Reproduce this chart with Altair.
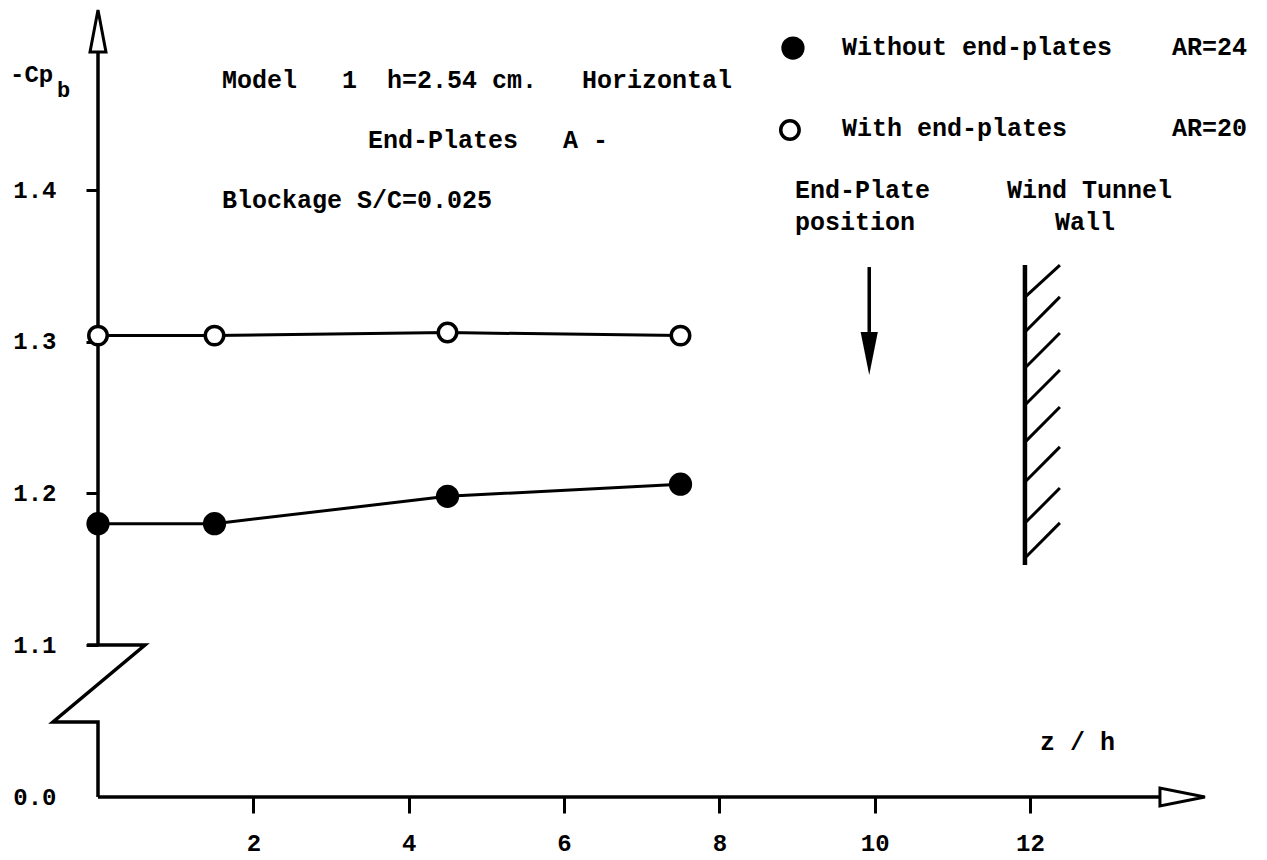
import altair as alt
import pandas as pd

NB = "\u00a0"

# ---- measured data ----
z_pos = [0.0, 1.5, 4.5, 7.5]
cp_with_plates = [1.304, 1.304, 1.306, 1.304]
cp_without_plates = [1.180, 1.180, 1.198, 1.206]

x_ticks = [2, 4, 6, 8, 10, 12]
y_ticks = [0.0, 1.1, 1.2, 1.3, 1.4]

# legend symbols (data coordinates)
leg_filled_z, leg_filled_v = [8.948], [1.4936]
leg_open_z, leg_open_v = [8.909], [1.4396]

# hand-drawn axes with broken y axis
axis_z = [0.0, 0.0, -0.58, 0.605, -0.14, 0.0, 0.0, 0.0, 13.67]
axis_v = [0.0, 0.543, 0.543, 1.1, 1.1, 1.1, 1.491, 0.0, 0.0]
axis_g = ["low"] * 5 + ["up"] * 2 + ["x"] * 2

# end-plate position arrow and tunnel wall
plate_z = [9.93]
plate_v_top, plate_v_bot = [1.3492], [1.3064]
plate_head_v = [1.2922]
wall_z = [11.935]
wall_v_bot, wall_v_top = [1.1527], [1.3505]
hatch_lo = [1.3294, 1.3064, 1.2826, 1.2582, 1.2338, 1.2075, 1.1804, 1.1574]
hatch_hi = [1.3505, 1.3295, 1.3057, 1.2813, 1.2569, 1.2306, 1.2035, 1.1805]
hatch_z0, hatch_z1 = 11.935, 12.385

# text annotations
texts = ["-Cp", "b", "Model   1  h=2.54 cm.   Horizontal", "End-Plates   A -",
         "Blockage S/C=0.025", "Without end-plates", "AR=24", "With end-plates",
         "AR=20", "End-Plate", "position", "Wind Tunnel", "Wall", "z / h"]
texts = [t.replace(" ", NB) for t in texts]
text_z = [-1.133, -0.528, 1.597, 3.476, 1.597, 9.579, 13.828, 9.579, 13.828,
          8.974, 8.974, 11.703, 12.321, 12.128]
text_v = [1.4758, 1.4659, 1.4725, 1.433, 1.3934, 1.4943, 1.4943, 1.4409, 1.4409,
          1.4, 1.3789, 1.4, 1.3789, 0.398]
text_fs = [24, 22, 25, 25, 25, 25, 25, 25, 25, 25, 25, 25, 25, 25]

FONT = "Liberation Mono"

xs = alt.Scale(domain=[0, 12], range=[98, 1030], nice=False, zero=False)
ys = alt.Scale(domain=[0.0, 1.1, 1.4], range=[797, 645, 190], nice=False, zero=False)

x_axis = alt.Axis(values=x_ticks, format="d", orient="bottom", offset=-63,
                  domain=False, grid=False, tickSize=16, tickWidth=3,
                  tickColor="black", labelPadding=30, labelFont=FONT,
                  labelFontSize=24, labelFontWeight="bold", labelColor="black",
                  labelBaseline="middle", labelFlush=False, labelOverlap=False,
                  title="")
y_axis = alt.Axis(values=y_ticks, format=".1f", orient="left", offset=-98,
                  domain=False, grid=False, tickSize=12, tickWidth=3,
                  tickColor="black",
                  tickOpacity={"condition": {"test": "datum.value == 0", "value": 0}, "value": 1},
                  labelPadding=30, labelFont=FONT, labelFontSize=24,
                  labelFontWeight="bold", labelColor="black",
                  labelBaseline="middle", labelOverlap=False, title="")

series = pd.DataFrame({
    "z": z_pos * 2,
    "v": cp_without_plates + cp_with_plates,
    "s": ["without"] * len(z_pos) + ["with"] * len(z_pos),
})
filled_df = pd.DataFrame({"z": z_pos + leg_filled_z, "v": cp_without_plates + leg_filled_v})
open_df = pd.DataFrame({"z": z_pos + leg_open_z, "v": cp_with_plates + leg_open_v})
axis_df = pd.DataFrame({"z": axis_z, "v": axis_v, "g": axis_g, "o": list(range(len(axis_z)))})
text_df = pd.DataFrame({"t": texts, "z": text_z, "v": text_v, "fs": text_fs})
plate_df = pd.DataFrame({"z": plate_z, "v": plate_v_top, "v2": plate_v_bot})
plate_head_df = pd.DataFrame({"z": plate_z, "v": plate_head_v})
wall_df = pd.DataFrame({"z": wall_z, "v": wall_v_bot, "v2": wall_v_top})
hatch_df = pd.DataFrame({"z": [hatch_z0] * len(hatch_lo), "z2": [hatch_z1] * len(hatch_lo),
                         "v": hatch_lo, "v2": hatch_hi})
yarrow_df = pd.DataFrame({"z": [0.0], "v": [1.5048]})
xarrow_df = pd.DataFrame({"z": [13.963], "v": [0.0]})


def X():
    return alt.X("z:Q", scale=xs, axis=x_axis)


def Y():
    return alt.Y("v:Q", scale=ys, axis=y_axis)


lines = alt.Chart(series).mark_line(color="black", strokeWidth=3).encode(
    x=X(), y=Y(), detail="s:N")

axes_lines = alt.Chart(axis_df).mark_line(color="black", strokeWidth=3.5).encode(
    x=X(), y=Y(), detail="g:N", order=alt.Order("o:Q"))

filled_pts = alt.Chart(filled_df).mark_point(
    shape="circle", filled=True, color="black", size=540, opacity=1).encode(x=X(), y=Y())

open_pts = alt.Chart(open_df).mark_point(
    shape="circle", filled=True, fill="white", stroke="black", strokeWidth=3.5,
    size=340, opacity=1, fillOpacity=1, strokeOpacity=1).encode(x=X(), y=Y())

y_arrow = alt.Chart(yarrow_df).mark_point(
    shape="M0,-1L0.38,1L-0.38,1Z", size=1764, filled=True, fill="white",
    stroke="black", strokeWidth=3, opacity=1, fillOpacity=1, strokeOpacity=1).encode(x=X(), y=Y())

x_arrow = alt.Chart(xarrow_df).mark_point(
    shape="M1,0L-1,0.4L-1,-0.4Z", size=2025, filled=True, fill="white",
    stroke="black", strokeWidth=3, opacity=1, fillOpacity=1, strokeOpacity=1).encode(x=X(), y=Y())

plate_line = alt.Chart(plate_df).mark_rule(color="black", strokeWidth=3.5).encode(
    x=X(), y=Y(), y2="v2:Q")

plate_head = alt.Chart(plate_head_df).mark_point(
    shape="M-0.4,-1L0.4,-1L0,1Z", size=1849, filled=True, color="black", opacity=1).encode(
    x=X(), y=Y())

wall = alt.Chart(wall_df).mark_rule(color="black", strokeWidth=4.5).encode(
    x=X(), y=Y(), y2="v2:Q")

hatches = alt.Chart(hatch_df).mark_rule(color="black", strokeWidth=3).encode(
    x=X(), x2="z2:Q", y=Y(), y2="v2:Q")

labels = alt.Chart(text_df).mark_text(
    align="left", baseline="middle", font=FONT, fontWeight="bold", color="black").encode(
    x=X(), y=Y(), text="t:N", size=alt.Size("fs:Q", scale=None))

chart = alt.layer(
    lines, axes_lines, filled_pts, open_pts, y_arrow, x_arrow,
    plate_line, plate_head, wall, hatches, labels,
).properties(
    width=1267, height=860,
    autosize=alt.AutoSizeParams(type="none"),
    padding=0, background="white",
).configure_view(strokeWidth=0)

chart.save("out.html", embed_options={"renderer": "svg", "actions": False})
